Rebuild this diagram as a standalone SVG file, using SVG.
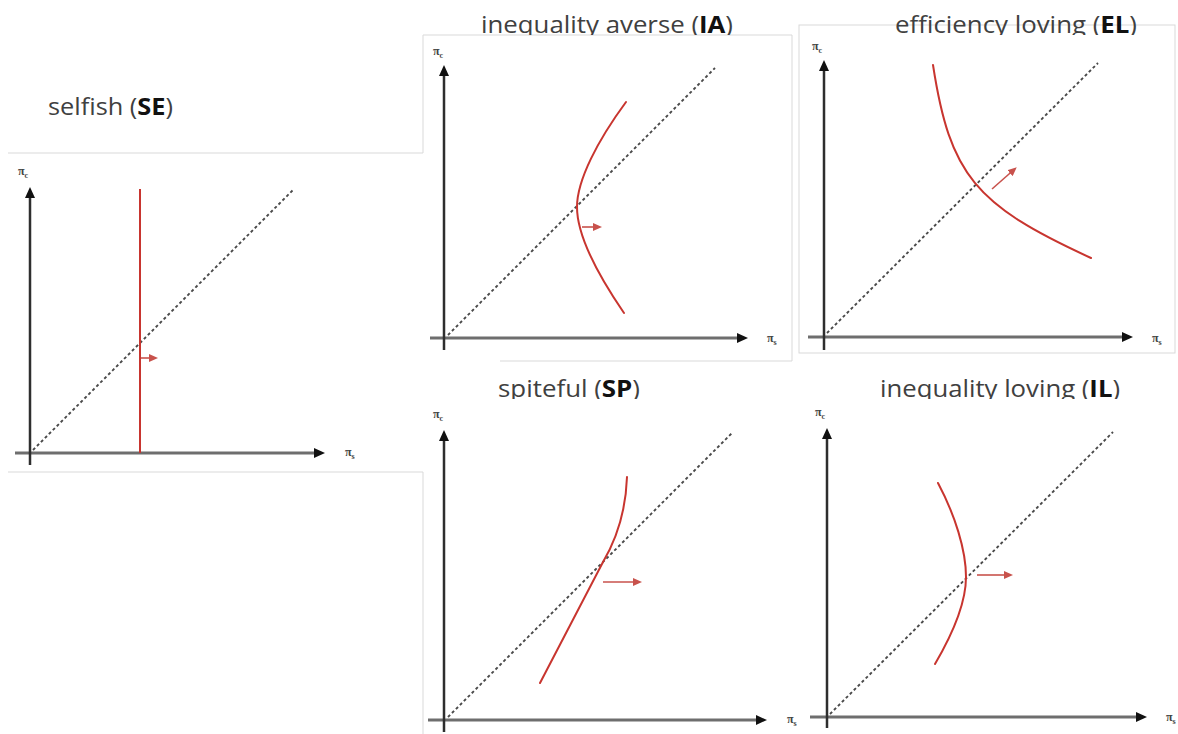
<svg xmlns="http://www.w3.org/2000/svg" width="1178" height="734" viewBox="0 0 1178 734">
<style>
.frame{fill:none;stroke:#d9d9d9;stroke-width:1}
.yax{stroke:#2e2e2e;stroke-width:2.5;fill:none}
.xax{stroke:#6e6e6e;stroke-width:3;fill:none}
.diag{stroke:#4a4a4a;stroke-width:1.9;stroke-dasharray:3 2.6;fill:none}
.curve{stroke:#c8352f;stroke-width:2;fill:none;stroke-linecap:round}
.rarrow{stroke:#c8524c;stroke-width:1.6;fill:none}
.title{font-family:"Open Sans","Noto Sans",sans-serif;font-size:24px;fill:#404040}
.title .b{font-weight:bold;fill:#111}
.lab{font-family:"Liberation Serif",serif;font-size:12px;font-weight:bold;fill:#444}
.sub{font-size:8px}
</style>
<defs>
<marker id="ah" markerUnits="userSpaceOnUse" markerWidth="12" markerHeight="10" refX="5" refY="5" orient="auto"><path d="M0,0 L11,5 L0,10 Z" fill="#111"/></marker>
<marker id="rh" markerUnits="userSpaceOnUse" markerWidth="10" markerHeight="8" refX="4" refY="4" orient="auto"><path d="M0,0 L9,4 L0,8 Z" fill="#c8524c"/></marker>
<clipPath id="clipTop"><rect x="0" y="0" width="1178" height="35"/></clipPath>
<clipPath id="clipBot"><rect x="0" y="362" width="1178" height="37"/></clipPath>
</defs>
<rect x="0" y="0" width="1178" height="734" fill="#fff"/>

<g id="frames">
<path class="frame" d="M8,153 H423 M423,35 V153 M8,472 H423 V734 M423,35 H792 V361 H500"/>
<rect class="frame" x="799" y="25" width="376" height="328"/>
</g>

<g id="panel-SE">
<text class="title" x="48" y="115" textLength="125" lengthAdjust="spacingAndGlyphs">selfish (<tspan class="b">SE</tspan>)</text>
<line class="diag" x1="33" y1="450" x2="293" y2="190"/>
<line class="xax" x1="15" y1="453" x2="319" y2="453" marker-end="url(#ah)"/>
<line class="yax" x1="30" y1="465" x2="30" y2="193" marker-end="url(#ah)"/>
<line class="curve" x1="140" y1="189" x2="140" y2="453" style="stroke-linecap:butt"/>
<line class="rarrow" x1="141" y1="358" x2="153" y2="358" marker-end="url(#rh)"/>
<text class="lab" x="18" y="175">π<tspan class="sub" dy="3">c</tspan></text>
<text class="lab" x="345" y="456">π<tspan class="sub" dy="3">s</tspan></text>
</g>

<g id="panel-IA">
<text class="title" x="481" y="33" textLength="252" lengthAdjust="spacingAndGlyphs" clip-path="url(#clipTop)">inequality averse (<tspan class="b">IA</tspan>)</text>
<line class="diag" x1="448" y1="335" x2="715" y2="68"/>
<line class="xax" x1="430" y1="338" x2="742" y2="338" marker-end="url(#ah)"/>
<line class="yax" x1="444" y1="350" x2="444" y2="71" marker-end="url(#ah)"/>
<path class="curve" d="M626,102 C598,140 577,180 577,207 C577,235 598,275 624,313"/>
<line class="rarrow" x1="582" y1="227" x2="597" y2="227" marker-end="url(#rh)"/>
<text class="lab" x="433" y="55">π<tspan class="sub" dy="3">c</tspan></text>
<text class="lab" x="767" y="342">π<tspan class="sub" dy="3">s</tspan></text>
</g>

<g id="panel-EL">
<text class="title" x="895" y="33" textLength="242" lengthAdjust="spacingAndGlyphs" clip-path="url(#clipTop)">efficiency loving (<tspan class="b">EL</tspan>)</text>
<line class="diag" x1="827" y1="333" x2="1098" y2="63"/>
<line class="xax" x1="808" y1="337" x2="1127" y2="337" marker-end="url(#ah)"/>
<line class="yax" x1="824" y1="350" x2="824" y2="66" marker-end="url(#ah)"/>
<path class="curve" d="M933,65 C950,175 975,205 1091,258"/>
<line class="rarrow" x1="992" y1="189" x2="1013" y2="170.5" marker-end="url(#rh)"/>
<text class="lab" x="812" y="50">π<tspan class="sub" dy="3">c</tspan></text>
<text class="lab" x="1152" y="342">π<tspan class="sub" dy="3">s</tspan></text>
</g>

<g id="panel-SP">
<text class="title" x="498" y="397" textLength="142" lengthAdjust="spacingAndGlyphs" clip-path="url(#clipBot)">spiteful (<tspan class="b">SP</tspan>)</text>
<line class="diag" x1="448" y1="717" x2="732" y2="433"/>
<line class="xax" x1="428" y1="720" x2="761" y2="720" marker-end="url(#ah)"/>
<line class="yax" x1="444" y1="732" x2="444" y2="436" marker-end="url(#ah)"/>
<path class="curve" d="M627,477 C626,505 619,535 603,562 L540,683"/>
<line class="rarrow" x1="603" y1="582" x2="637" y2="582" marker-end="url(#rh)"/>
<text class="lab" x="433" y="418">π<tspan class="sub" dy="3">c</tspan></text>
<text class="lab" x="787" y="723">π<tspan class="sub" dy="3">s</tspan></text>
</g>

<g id="panel-IL">
<text class="title" x="880" y="397" textLength="240" lengthAdjust="spacingAndGlyphs" clip-path="url(#clipBot)">inequality loving (<tspan class="b">IL</tspan>)</text>
<line class="diag" x1="830" y1="714" x2="1113" y2="432"/>
<line class="xax" x1="810" y1="717" x2="1141" y2="717" marker-end="url(#ah)"/>
<line class="yax" x1="827" y1="728" x2="827" y2="434" marker-end="url(#ah)"/>
<path class="curve" d="M938,483 C955,515 966,550 966,577 C966,605 952,635 935,664"/>
<line class="rarrow" x1="977" y1="575" x2="1008" y2="575" marker-end="url(#rh)"/>
<text class="lab" x="815" y="416">π<tspan class="sub" dy="3">c</tspan></text>
<text class="lab" x="1166" y="721">π<tspan class="sub" dy="3">s</tspan></text>
</g>
</svg>
